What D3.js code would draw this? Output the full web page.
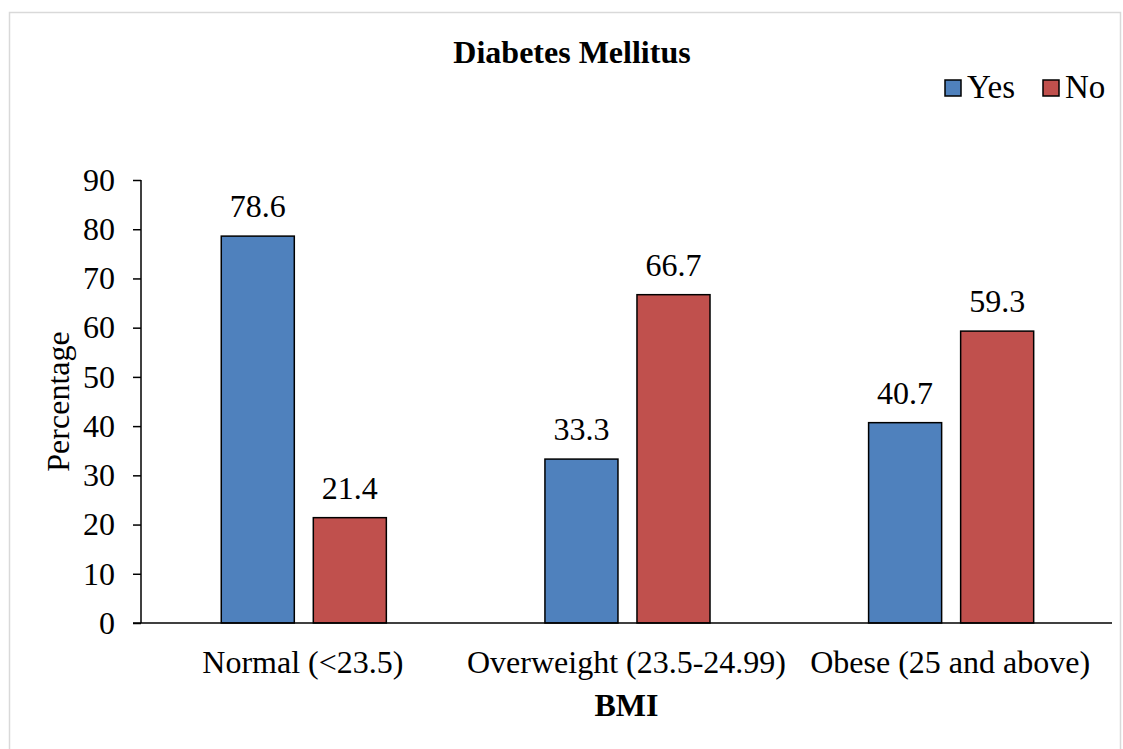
<!DOCTYPE html>
<html>
<head>
<meta charset="utf-8">
<script src="https://cdn.jsdelivr.net/npm/d3@7"></script>
<style>
  body { margin: 0; background: #fff; }
  text { font-family: "Liberation Serif", "Times New Roman", serif; fill: #000; }
</style>
</head>
<body>
<div id="chart"></div>
<script>
// data
var categories = ["Normal (<23.5)", "Overweight (23.5-24.99)", "Obese (25 and above)"];
var seriesNames = ["Yes", "No"];
var yesValues = [78.6, 33.3, 40.7];
var noValues = [21.4, 66.7, 59.3];
var yTicks = [0, 10, 20, 30, 40, 50, 60, 70, 80, 90];
var colors = ["#4f81bd", "#c0504d"];

var width = 1123, height = 749;
var margin = { top: 180, right: 11, bottom: 126, left: 141 };
var innerW = width - margin.left - margin.right;
var innerH = height - margin.top - margin.bottom;
var fontSize = "32px";

var svg = d3.select("#chart").append("svg")
    .attr("width", width)
    .attr("height", height);

// outer frame
svg.append("rect")
    .attr("x", 9.5).attr("y", 12.5)
    .attr("width", 1111).attr("height", 740)
    .attr("fill", "none")
    .attr("stroke", "#d9d9d9")
    .attr("stroke-width", 1.5);

var g = svg.append("g")
    .attr("transform", "translate(" + margin.left + "," + margin.top + ")");

var x0 = d3.scaleBand()
    .domain(categories)
    .range([0, innerW]);

var x1 = d3.scaleBand()
    .domain(seriesNames)
    .range([x0.bandwidth() * 0.248, x0.bandwidth() * 0.758])
    .paddingInner(0.2065);

var y = d3.scaleLinear()
    .domain([0, 90])
    .range([innerH, 0]);

var rows = categories.map(function(c, i) {
    return { cat: c, values: [
        { key: "Yes", value: yesValues[i] },
        { key: "No", value: noValues[i] }
    ]};
});

var groups = g.selectAll(".grp")
    .data(rows)
    .enter().append("g")
    .attr("class", "grp")
    .attr("transform", function(d) { return "translate(" + x0(d.cat) + ",0)"; });

groups.selectAll("rect")
    .data(function(d) { return d.values; })
    .enter().append("rect")
    .attr("x", function(d) { return x1(d.key); })
    .attr("y", function(d) { return y(d.value); })
    .attr("width", x1.bandwidth())
    .attr("height", function(d) { return innerH - y(d.value); })
    .attr("fill", function(d, i) { return colors[i]; })
    .attr("stroke", "#000")
    .attr("stroke-width", 1.5);

groups.selectAll(".lbl")
    .data(function(d) { return d.values; })
    .enter().append("text")
    .attr("class", "lbl")
    .attr("x", function(d) { return x1(d.key) + x1.bandwidth() / 2; })
    .attr("y", function(d) { return y(d.value) - 19; })
    .attr("text-anchor", "middle")
    .style("font-size", fontSize)
    .text(function(d) { return d.value.toFixed(1); });

// axes
var yAxis = d3.axisLeft(y).tickValues(yTicks).tickSize(8).tickPadding(18);
var yAxisGroup = g.append("g").attr("class", "y-axis").call(yAxis);
yAxisGroup.select(".domain").attr("stroke", "#000").attr("stroke-width", 1.5).attr("d", "M0,0V" + innerH);
yAxisGroup.selectAll(".tick line").attr("stroke", "#000").attr("stroke-width", 1.5);
yAxisGroup.selectAll("text").style("font-size", fontSize).style("font-family", "Liberation Serif, serif");

var xAxis = d3.axisBottom(x0).tickSize(0).tickPadding(27);
var xAxisGroup = g.append("g").attr("class", "x-axis")
    .attr("transform", "translate(0," + innerH + ")")
    .call(xAxis);
xAxisGroup.select(".domain").attr("stroke", "#000").attr("stroke-width", 1.5).attr("d", "M-8,0H" + innerW);
xAxisGroup.selectAll("text").style("font-size", fontSize).style("font-family", "Liberation Serif, serif");

// titles
svg.append("text")
    .attr("x", 572).attr("y", 63)
    .attr("text-anchor", "middle")
    .style("font-size", fontSize)
    .style("font-weight", "bold")
    .text("Diabetes Mellitus");

svg.append("text")
    .attr("x", margin.left + innerW / 2).attr("y", 716)
    .attr("text-anchor", "middle")
    .style("font-size", fontSize)
    .style("font-weight", "bold")
    .text("BMI");

svg.append("text")
    .attr("transform", "translate(69," + (margin.top + innerH / 2) + ") rotate(-90)")
    .attr("text-anchor", "middle")
    .style("font-size", fontSize)
    .text("Percentage");

// legend
var legendX = [945, 1043];
var legend = svg.selectAll(".legend")
    .data(seriesNames)
    .enter().append("g")
    .attr("class", "legend")
    .attr("transform", function(d, i) { return "translate(" + legendX[i] + ",80)"; });

legend.append("rect")
    .attr("width", 16).attr("height", 16)
    .attr("fill", function(d, i) { return colors[i]; })
    .attr("stroke", "#000")
    .attr("stroke-width", 1.5);

legend.append("text")
    .attr("x", 22).attr("y", 18)
    .style("font-size", "33px")
    .text(function(d) { return d; });
</script>
</body>
</html>
